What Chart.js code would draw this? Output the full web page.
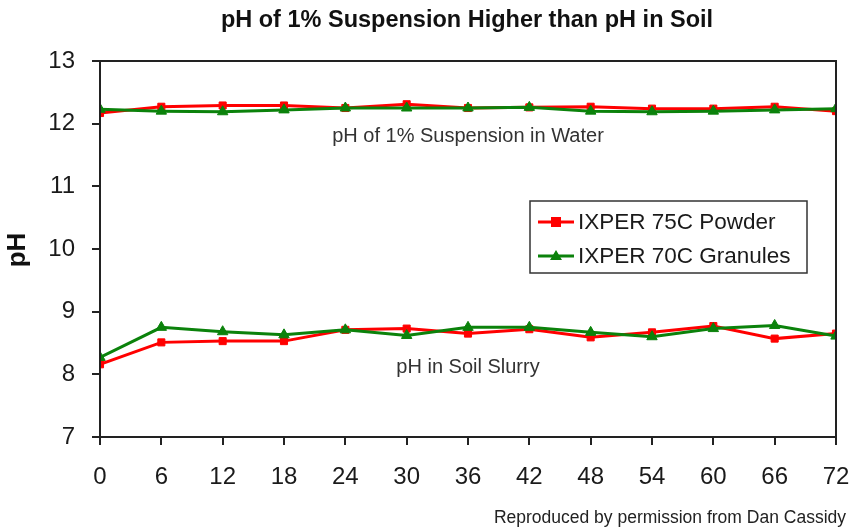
<!DOCTYPE html>
<html>
<head>
<meta charset="utf-8">
<script src="https://cdn.jsdelivr.net/npm/chart.js@4/dist/chart.umd.min.js"></script>
<style>
  html, body { margin: 0; padding: 0; background: #fff; }
  #wrap { width: 851px; height: 529px; position: relative; }
</style>
</head>
<body>
<div id="wrap"><canvas id="phChart" width="851" height="529"></canvas></div>
<script>
(function() {
    // hours after mixing
    const hours = [0, 6, 12, 18, 24, 30, 36, 42, 48, 54, 60, 66, 72];
    // pH of 1% suspension in water
    const powderWater   = [12.17, 12.27, 12.29, 12.29, 12.25, 12.31, 12.25, 12.26, 12.27, 12.24, 12.24, 12.27, 12.20];
    const granulesWater = [12.23, 12.20, 12.19, 12.22, 12.25, 12.25, 12.25, 12.26, 12.20, 12.19, 12.20, 12.22, 12.24];
    // pH in soil slurry
    const powderSoil   = [8.16, 8.51, 8.53, 8.53, 8.71, 8.73, 8.65, 8.72, 8.59, 8.67, 8.77, 8.57, 8.65];
    const granulesSoil = [8.27, 8.75, 8.68, 8.63, 8.71, 8.62, 8.75, 8.75, 8.67, 8.60, 8.73, 8.78, 8.61];

    const seriesNames = ['IXPER 75C Powder', 'IXPER 70C Granules'];
    const RED = '#ff0000';
    const GREEN = '#0b820b';
    const FONT = '"Liberation Sans", Arial, sans-serif';

    function pts(vals) {
        return vals.map((v, i) => ({ x: hours[i], y: v }));
    }

    function ds(vals, color, style, radius, order) {
        return {
            data: pts(vals),
            borderColor: color,
            backgroundColor: color,
            borderWidth: 3,
            pointStyle: style,
            pointRadius: radius,
            pointBorderWidth: 1,
            tension: 0,
            order: order
        };
    }

    // titulo, anotaciones, leyenda, marco
    const extras = {
        id: 'extras',
        afterDraw(chart) {
            const ctx = chart.ctx;
            const a = chart.chartArea;
            const xs = chart.scales.x;
            const ys = chart.scales.y;
            ctx.save();

            // frame
            ctx.strokeStyle = '#222';
            ctx.lineWidth = 2;
            ctx.strokeRect(a.left, a.top, a.right - a.left, a.bottom - a.top);

            ctx.fillStyle = '#111';
            ctx.textAlign = 'center';
            ctx.textBaseline = 'middle';
            ctx.font = 'bold 23.5px ' + FONT;
            ctx.fillText('pH of 1% Suspension Higher than pH in Soil', 467, 21);

            // y title
            ctx.save();
            ctx.translate(18, 250);
            ctx.rotate(-Math.PI / 2);
            ctx.font = 'bold 26px ' + FONT;
            ctx.fillText('pH', 0, 0);
            ctx.restore();

            // annotations
            ctx.fillStyle = '#333';
            ctx.font = '20px ' + FONT;
            ctx.fillText('pH of 1% Suspension in Water', xs.getPixelForValue(36), ys.getPixelForValue(11.79));
            ctx.fillText('pH in Soil Slurry', xs.getPixelForValue(36), ys.getPixelForValue(8.11));

            // legend
            const lx = 530, ly = 201, lw = 277, lh = 72;
            ctx.fillStyle = '#fff';
            ctx.fillRect(lx, ly, lw, lh);
            ctx.strokeStyle = '#333';
            ctx.lineWidth = 1.5;
            ctx.strokeRect(lx, ly, lw, lh);
            const rows = [
                { name: seriesNames[0], color: RED, y: ly + 21 },
                { name: seriesNames[1], color: GREEN, y: ly + 55 }
            ];
            rows.forEach((r, i) => {
                ctx.strokeStyle = r.color;
                ctx.fillStyle = r.color;
                ctx.lineWidth = 3;
                ctx.beginPath();
                ctx.moveTo(lx + 8, r.y);
                ctx.lineTo(lx + 44, r.y);
                ctx.stroke();
                ctx.beginPath();
                if (i === 0) {
                    ctx.rect(lx + 21, r.y - 5, 10, 10);
                } else {
                    ctx.moveTo(lx + 26, r.y - 6);
                    ctx.lineTo(lx + 32, r.y + 4);
                    ctx.lineTo(lx + 20, r.y + 4);
                    ctx.closePath();
                }
                ctx.fill();
                ctx.fillStyle = '#1a1a1a';
                ctx.textAlign = 'left';
                ctx.font = '22.5px ' + FONT;
                ctx.fillText(r.name, lx + 48, r.y + 1);
            });

            // footer
            ctx.fillStyle = '#222';
            ctx.textAlign = 'right';
            ctx.font = '17.5px ' + FONT;
            ctx.fillText('Reproduced by permission from Dan Cassidy', 846, 518);
            ctx.restore();
        }
    };

    const tickFont = { family: FONT, size: 24 };

    new Chart(document.getElementById('phChart'), {
        type: 'line',
        data: {
            datasets: [
                ds(powderWater, RED, 'rect', 5, 2),
                ds(powderSoil, RED, 'rect', 5, 2),
                ds(granulesWater, GREEN, 'triangle', 6, 1),
                ds(granulesSoil, GREEN, 'triangle', 6, 1)
            ]
        },
        options: {
            responsive: false,
            animation: false,
            devicePixelRatio: 1,
            layout: { padding: { top: 61, right: 15, bottom: 32, left: 0 } },
            plugins: {
                legend: { display: false },
                title: { display: false },
                tooltip: { enabled: false }
            },
            scales: {
                x: {
                    type: 'linear',
                    min: 0,
                    max: 72,
                    afterFit(scale) {
                        scale.height = 60;
                        scale.paddingLeft = 0;
                        scale.paddingRight = 0;
                    },
                    ticks: { stepSize: 6, color: '#1a1a1a', font: tickFont, padding: 18, maxRotation: 0 },
                    grid: { drawOnChartArea: false, tickLength: 8, color: '#222', lineWidth: 2 },
                    border: { color: '#222', width: 2 }
                },
                y: {
                    min: 7,
                    max: 13,
                    afterFit(scale) {
                        scale.width = 100;
                        scale.paddingTop = 0;
                        scale.paddingBottom = 0;
                    },
                    ticks: { stepSize: 1, color: '#1a1a1a', font: tickFont, padding: 17 },
                    grid: { drawOnChartArea: false, tickLength: 8, color: '#222', lineWidth: 2 },
                    border: { color: '#222', width: 2 }
                }
            }
        },
        plugins: [extras]
    });
})();
</script>
</body>
</html>
